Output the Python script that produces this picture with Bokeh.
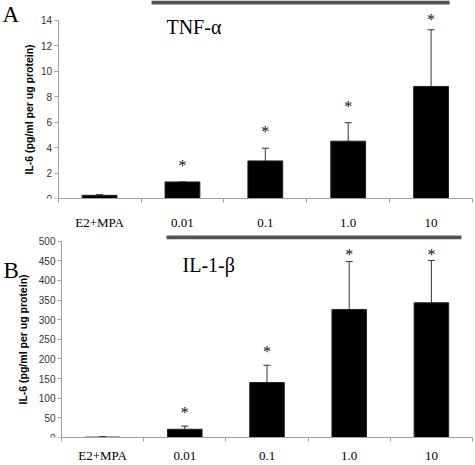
from bokeh.plotting import figure
from bokeh.layouts import column
from bokeh.models import (Range1d, FixedTicker, Whisker, TeeHead, Label,
                          BoxAnnotation, ColumnDataSource)
from bokeh.core.properties import value
from bokeh.embed import file_html
from bokeh.resources import INLINE

# ---------------- data ----------------
categories = ["E2+MPA", "0.01", "0.1", "1.0", "10"]
significant = [False, True, True, True, True]

tnf_mean = [0.25, 1.3, 2.95, 4.5, 8.8]
tnf_err = [0.05, 0.0, 1.0, 1.45, 4.45]
tnf_ticks = [0, 2, 4, 6, 8, 10, 12, 14]

il1_mean = [1, 21, 140, 326, 343]
il1_err = [1, 8, 44, 122, 108]
il1_ticks = [0, 50, 100, 150, 200, 250, 300, 350, 400, 450, 500]

y_label = "IL-6 (pg/ml per ug protein)"
SERIF = "Liberation Serif"
SANS = "Liberation Sans"


def panel(mean, err, ticks, y_end, width, height, left, right, bottom,
          letter, letter_px, title, title_px, bar_px, star_gap, star_cap,
          label_standoff, xlab_standoff):
    n = len(categories)
    frame_w = width - left - right      # width of the category area
    frame_h = height - bottom
    ppu = frame_h / y_end
    cat_w = frame_w / n
    x_start = -left / cat_w             # frame extends over the left margin

    def dx(px):
        return (px - left) / cat_w

    def dy(py):
        return y_end - py / ppu

    p = figure(width=width, height=height, output_backend="svg",
               toolbar_location=None, x_range=Range1d(x_start, n),
               y_range=Range1d(0, y_end),
               min_border_left=0, min_border_right=right,
               min_border_top=0, min_border_bottom=bottom)
    p.outline_line_color = None
    p.xgrid.visible = False
    p.ygrid.visible = False
    p.background_fill_color = "white"
    p.border_fill_color = "white"

    xs = [i + 0.5 for i in range(n)]
    tops = [m + e for m, e in zip(mean, err)]
    src = ColumnDataSource(dict(x=xs, top=mean, upper=tops, lower=mean))
    p.vbar(x="x", top="top", width=0.42, source=src, fill_color="black",
           line_color="#222222", line_width=1)
    p.add_layout(Whisker(base="x", upper="upper", lower="lower", source=src,
                         dimension="height", line_color="#333333", line_width=1,
                         upper_head=TeeHead(size=7, line_color="#333333", line_width=1),
                         lower_head=None))

    # asterisks above significant bars
    cap_val = dy(star_cap)
    sx, sy = [], []
    for x, t, s in zip(xs, tops, significant):
        if s:
            sx.append(x)
            sy.append(min(t + star_gap / ppu, cap_val))
    p.text(x=sx, y=sy, text=["*"] * len(sx), text_font=value(SERIF),
           text_font_size="16px", text_align="center",
           text_baseline="alphabetic", y_offset=2, text_color="#111111")

    # axes
    ax = p.xaxis[0]
    ax.ticker = FixedTicker(ticks=xs, minor_ticks=list(range(n + 1)))
    ax.major_label_overrides = {x: c for x, c in zip(xs, categories)}
    ax.bounds = (0, n)
    ax.major_tick_out = 0
    ax.major_tick_in = 0
    ax.minor_tick_out = 4
    ax.minor_tick_in = 0
    ax.minor_tick_line_color = "#a0a0a0"
    ax.axis_line_color = "#a0a0a0"
    ax.major_label_text_font = SERIF
    ax.major_label_text_font_size = "13px"
    ax.major_label_text_color = "black"
    ax.major_label_standoff = xlab_standoff

    ay = p.yaxis[0]
    ay.fixed_location = 0
    ay.ticker = FixedTicker(ticks=ticks, minor_ticks=[])
    ay.bounds = (ticks[0], ticks[-1])
    ay.major_tick_out = 4
    ay.major_tick_in = 0
    ay.minor_tick_out = 0
    ay.major_tick_line_color = "#a0a0a0"
    ay.axis_line_color = "#a0a0a0"
    ay.major_label_text_font = SANS
    ay.major_label_text_font_size = "10px"
    ay.major_label_text_color = "#333333"
    ay.major_label_standoff = 2
    ay.axis_label = y_label
    ay.axis_label_text_font = SANS
    ay.axis_label_text_font_style = "bold"
    ay.axis_label_text_font_size = "10.5px"
    ay.axis_label_text_color = "black"
    ay.axis_label_standoff = label_standoff

    # grey treatment bar
    p.add_layout(BoxAnnotation(left=dx(bar_px[0]), right=dx(bar_px[1]),
                               top=dy(bar_px[2]), bottom=dy(bar_px[3]),
                               fill_color="#555555", fill_alpha=1,
                               line_alpha=0))
    # panel letter and title
    p.add_layout(Label(x=dx(letter_px[0]), y=dy(letter_px[1]), text=letter,
                       text_font=SERIF, text_font_size="23px",
                       text_baseline="alphabetic", text_color="black"))
    p.add_layout(Label(x=dx(title_px[0]), y=dy(title_px[1]), text=title,
                       text_font=SERIF, text_font_size="20px",
                       text_baseline="alphabetic", text_color="black"))
    return p


pA = panel(tnf_mean, tnf_err, tnf_ticks, y_end=15.55, width=475, height=232,
           left=58, right=0, bottom=31, letter="A", letter_px=(2, 14),
           title="TNF-\u03b1", title_px=(167, 27), bar_px=(152, 452, 0, 4),
           star_gap=19, star_cap=17, label_standoff=3, xlab_standoff=12)
pB = panel(il1_mean, il1_err, il1_ticks, y_end=522, width=475, height=233,
           left=61, right=3, bottom=21, letter="B", letter_px=(3, 39),
           title="IL-1-\u03b2", title_px=(182, 34), bar_px=(166, 461, 3, 7),
           star_gap=16, star_cap=21, label_standoff=7, xlab_standoff=6)

layout = column(pA, pB, spacing=0)
open("out.html", "w").write(file_html(layout, INLINE))
